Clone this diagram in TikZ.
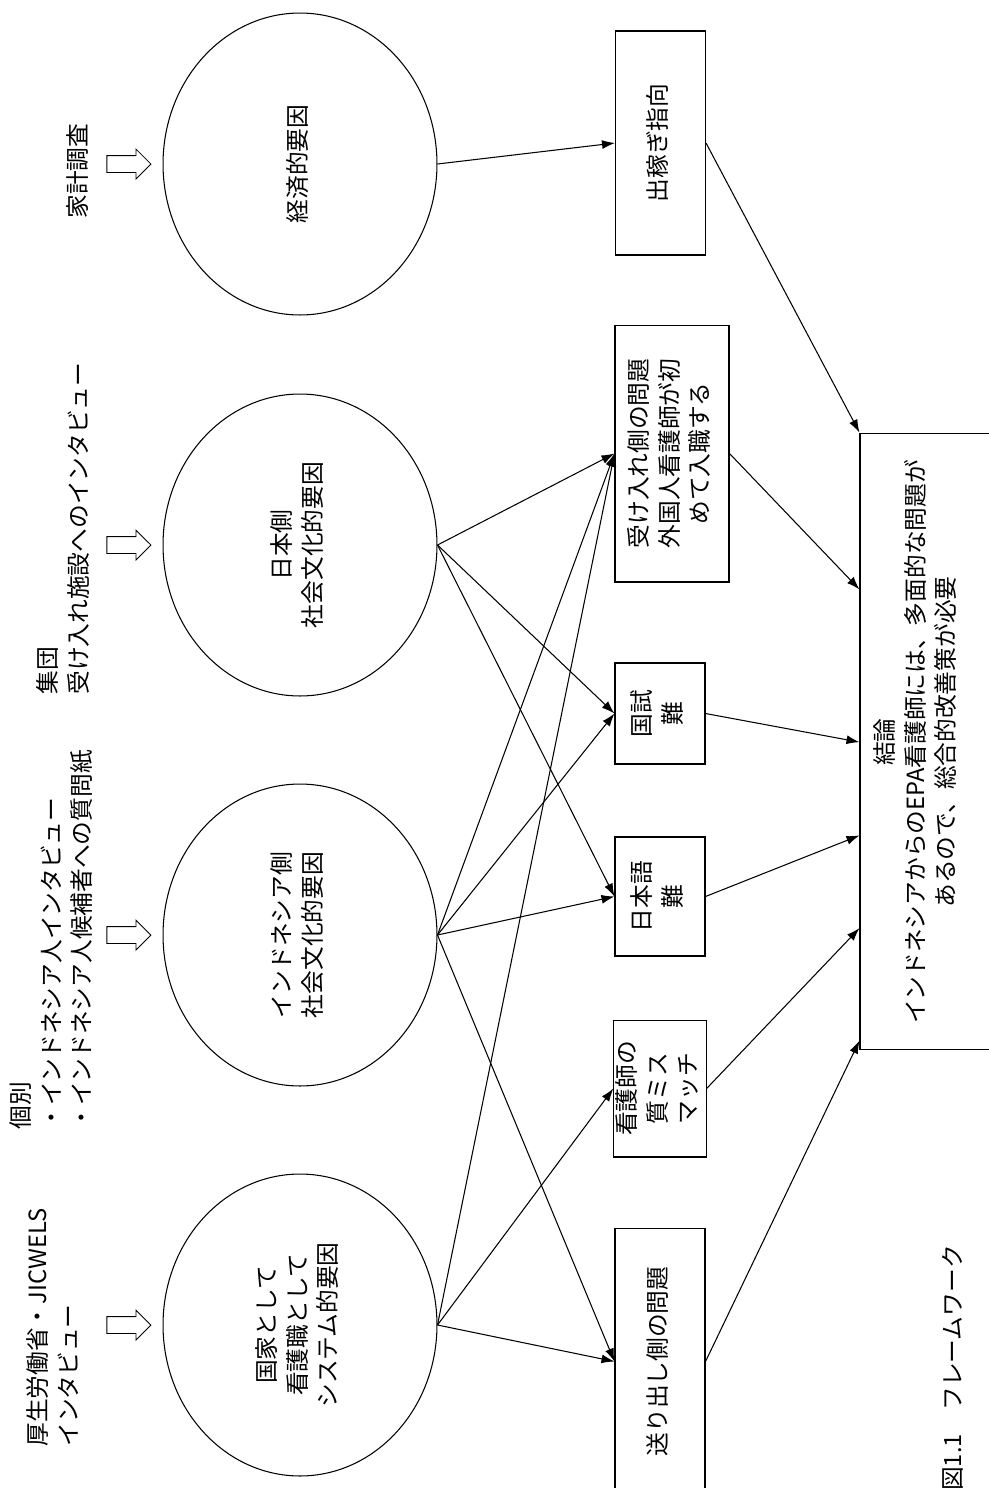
\documentclass[tikz,border=0pt]{standalone}
\usepackage{fontspec}
\usepackage{graphicx}
\newfontfamily\jpfont{Noto Sans CJK JP}
\usetikzlibrary{arrows.meta, positioning, shapes.geometric, shapes.arrows, calc}

% rotated (bottom-to-top) text block
\newcommand{\vtxt}[2][c]{\rotatebox{90}{\begin{tabular}{@{}#1@{}}#2\end{tabular}}}

\begin{document}
\begin{tikzpicture}[
  x=0.02cm, y=-0.02cm, >={Latex[length=2.6mm, width=1.8mm]},
  every node/.style={font=\jpfont\fontsize{13.5}{17.5}\selectfont},
  factor/.style={draw, ellipse, line width=0.6pt, minimum width=5.48cm, minimum height=6.04cm, inner sep=0pt},
  issue/.style={draw, line width=0.6pt, minimum width=1.8cm, inner sep=0pt},
  src/.style={inner sep=0pt, anchor=south},
  hollow/.style={draw, single arrow, line width=0.5pt, single arrow head extend=1.3mm,
    minimum width=5.8mm, minimum height=8.8mm, inner sep=1.6mm},
  link/.style={->, line width=0.6pt}
]
\useasboundingbox (0,0) rectangle (989,1488);

% factors
\node[factor] (C1) at (300,164) {\vtxt{経済的要因}};
\node[factor] (C2) at (300,545) {\vtxt{日本側\\社会文化的要因}};
\node[factor] (C3) at (300,935) {\vtxt{インドネシア側\\社会文化的要因}};
\node[factor] (C4) at (300,1325) {\vtxt{国家として\\看護職として\\システム的要因}};

% data sources
\node[hollow, left=2.2mm of C1] (H1) {};
\node[hollow, left=2.2mm of C2] (H2) {};
\node[hollow, left=2.2mm of C3] (H3) {};
\node[hollow, left=2.2mm of C4] (H4) {};
\node[inner sep=0pt] (L1) at (80,171) {\vtxt{家計調査}};
\node[src] (L2) at (66,695) {\vtxt[l]{集団\\受け入れ施設へのインタビュー}};
\node[src] (L3) at (54,1130) {\vtxt[l]{個別\\・インドネシア人インタビュー\\・インドネシア人候補者への質問紙}};
\node[src] (L4) at (56,1447) {\vtxt[l]{厚生労働省・JICWELS\\インタビュー}};

% problems
\node[issue, minimum height=4.48cm] (B1) at (660.5,143) {\vtxt{出稼ぎ指向}};
\node[issue, minimum width=2.28cm, minimum height=5.14cm] (B2) at (672,453.5) {\vtxt{受け入れ側の問題\\外国人看護師が初\\めて入職する}};
\node[issue, minimum height=2.02cm] (B3) at (660,713.5) {\vtxt{国試\\難}};
\node[issue, minimum height=2.38cm] (B4) at (660,896.5) {\vtxt{日本語\\難}};
\node[issue, minimum height=2.74cm] (B5) at (660,1088.5) {\vtxt{看護師の\\質ミス\\マッチ}};
\node[issue, minimum height=5.34cm] (B6) at (660,1361.5) {\vtxt{送り出し側の問題}};

% conclusion
\node[issue, minimum width=2.8cm, minimum height=12.34cm] (K) at (930,741.5) {};
\node (Ktext) at (918,742) {\vtxt{結論\\インドネシアからのEPA看護師には、多面的な問題が\\あるので、総合的改善策が必要}};

\node (cap) at (955,1368) {\vtxt{図1.1　フレームワーク}};

\draw[link] (C1.east) -- (B1.west);
\draw[link] (C2.east) -- (B2.west);
\draw[link] (C2.east) -- (B3.west);
\draw[link] (C2.east) -- (B4.west);
\draw[link] (C3.east) -- (B2.west);
\draw[link] (C3.east) -- (B3.west);
\draw[link] (C3.east) -- (B4.west);
\draw[link] (C3.east) -- (B6.west);
\draw[link] (C4.east) -- (B2.west);
\draw[link] (C4.east) -- (B5.west);
\draw[link] (C4.east) -- (B6.west);

\draw[link] (B1.east) -- (K.north west);
\draw[link] (B2.east) -- ($(K.north west)!0.254!(K.south west)$);
\draw[link] (B3.east) -- ($(K.north west)!0.501!(K.south west)$);
\draw[link] (B4.east) -- ($(K.north west)!0.652!(K.south west)$);
\draw[link] (B5.east) -- ($(K.north west)!0.802!(K.south west)$);
\draw[link] (B6.east) -- ($(K.north west)!0.984!(K.south west)$);
\end{tikzpicture}
\end{document}
